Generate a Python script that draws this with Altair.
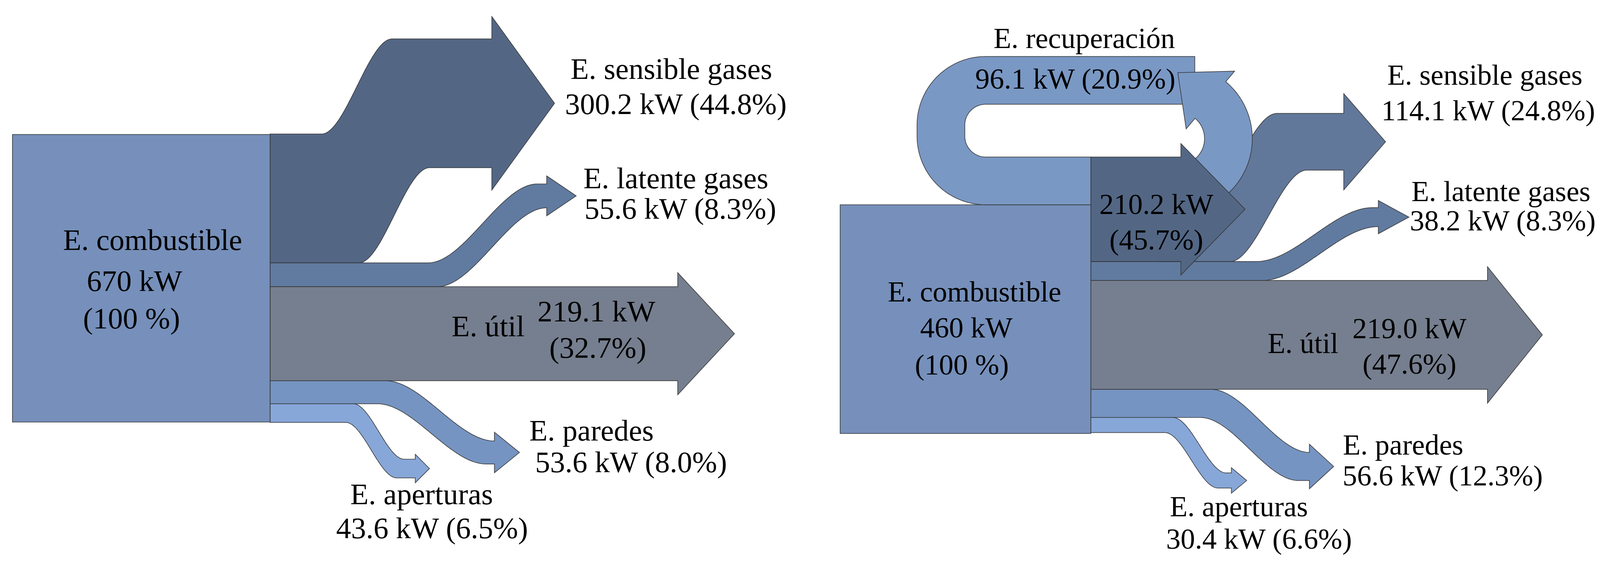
import altair as alt
import numpy as np
import pandas as pd

# ---------------- data ----------------
left_total = 670
left_names = ["E. sensible gases", "E. latente gases", "E. útil", "E. paredes", "E. aperturas"]
left_values = [300.2, 55.6, 219.1, 53.6, 43.6]
left_pct = ["44.8%", "8.3%", "32.7%", "8.0%", "6.5%"]

right_total = 460
right_names = ["E. sensible gases", "E. latente gases", "E. útil", "E. paredes", "E. aperturas"]
right_values = [114.1, 38.2, 219.0, 56.6, 30.4]
right_pct = ["24.8%", "8.3%", "47.6%", "12.3%", "6.6%"]

recovery_name = "E. recuperación"
recovery_value = 96.1
recovery_pct = "20.9%"
gases_value = 210.2
gases_pct = "45.7%"

source_name = "E. combustible"

# ---------------- styles / layout ----------------
FONT = "Liberation Serif"
FS_L = 80
FS_R = 77.5
C_BOX = "#7690BB"
C_DARK = "#536785"
C_LAT = "#617BA0"
C_UTIL = "#767F8F"
C_PAR = "#7594C1"
C_APE = "#87A7D8"
C_SENS_R = "#62789A"
C_LOOP = "#7A98C4"

L_BOX = (33.0, 723.3, 359.0, 1129.3)     # x0, x1, y0, y1
R_BOX = (2250.0, 2921.7, 547.4, 1160.0)

# per flow: target centre y (None = straight), curve start/end x, skew, notch x, head extra, head length, colour
left_layout = [
    dict(ty=275.5, xa=861, xb=1050, skew=100, notch=1317, extra=60, hl=168, color=C_DARK),
    dict(ty=523.5, xa=1146, xb=1439, skew=25, notch=1464, extra=21.5, hl=79, color=C_LAT),
    dict(ty=None, xa=0, xb=0, skew=0, notch=1815, extra=37.5, hl=152, color=C_UTIL),
    dict(ty=1211, xa=1010, xb=1302, skew=22, notch=1324, extra=23.5, hl=67, color=C_PAR),
    dict(ty=1254, xa=926, xb=1062, skew=20, notch=1112, extra=13, hl=38, color=C_APE),
]
right_layout = [
    dict(ty=378.5, xa=3215, xb=3420, skew=80, notch=3599, extra=53, hl=112, color=C_SENS_R),
    dict(ty=580.5, xa=3365, xb=3676, skew=15, notch=3691.6, extra=19, hl=82, color=C_LAT),
    dict(ty=None, xa=0, xb=0, skew=0, notch=3984, extra=37, hl=147, color=C_UTIL),
    dict(ty=1248.5, xa=3215, xb=3478, skew=29, notch=3507, extra=22, hl=65, color=C_PAR),
    dict(ty=1286, xa=3120, xb=3262, skew=22, notch=3298, extra=14, hl=41, color=C_APE),
]


def rnd(pts):
    return [[round(float(x), 2), round(float(y), 2)] for x, y in pts]


def feature(ring, color, name):
    ring = list(ring)
    if ring[0] != ring[-1]:
        ring.append(ring[0])
    return {"type": "Feature", "properties": {"fill": color, "name": name},
            "geometry": {"type": "Polygon", "coordinates": [rnd(ring)]}}


def rect(x0, x1, y0, y1):
    return [(x0, y0), (x1, y0), (x1, y1), (x0, y1)]


def arrow_ribbon(x0, ytop, w, lay):
    yc = ytop + w / 2
    ty = yc if lay["ty"] is None else lay["ty"]
    dy = ty - yc
    xa, xb, sk, notch = lay["xa"], lay["xb"], lay["skew"], lay["notch"]
    if dy < 0:
        ta, tb, ba, bb = xa, xb, xa + sk, xb + sk
    else:
        ta, tb, ba, bb = xa + sk, xb + sk, xa, xb
    if abs(dy) < 1e-9:
        xs = [x0, notch]
    else:
        xs = [x0] + list(np.linspace(min(ta, ba), max(tb, bb), 120)) + [notch]

    def edge(x, a, b, y0):
        if abs(dy) < 1e-9:
            return y0
        t = min(max((x - a) / (b - a), 0.0), 1.0)
        return y0 + dy * t * t * (3 - 2 * t)

    top = [(x, edge(x, ta, tb, ytop)) for x in xs]
    bot = [(x, edge(x, ba, bb, ytop + w)) for x in xs]
    e = lay["extra"]
    head = [(notch, ty - w / 2 - e), (notch + lay["hl"], ty), (notch, ty + w / 2 + e)]
    return top + head + bot[::-1]


def loop_band(x_start, y_t, x_l, y_b, x_end, R, w):
    h = w / 2
    c1 = (x_l + R, y_t + R)
    c2 = (x_l + R, y_b - R)

    def arc(c, r, a0, a1, n=40):
        return [(c[0] + r * np.cos(a), c[1] + r * np.sin(a)) for a in np.linspace(a0, a1, n)]

    outer = [(x_start, y_t - h)] + arc(c1, R + h, -np.pi / 2, -np.pi) + \
        arc(c2, R + h, np.pi, np.pi / 2) + [(x_end, y_b + h)]
    inner = [(x_end, y_b - h)] + arc(c2, R - h, np.pi / 2, np.pi) + \
        arc(c1, R - h, -np.pi, -np.pi / 2) + [(x_start, y_t + h)]
    return outer + inner


def arc_arrow(c, r, a0, a1, w, extra, hl, n=60):
    h = w / 2
    angs = np.linspace(a0, a1, n)
    outer = [(c[0] + (r + h) * np.cos(a), c[1] + (r + h) * np.sin(a)) for a in angs]
    inner = [(c[0] + (r - h) * np.cos(a), c[1] + (r - h) * np.sin(a)) for a in angs]
    a = a1
    p = np.array([c[0] + r * np.cos(a), c[1] + r * np.sin(a)])
    nrm = np.array([np.cos(a), np.sin(a)])
    d = np.array([np.sin(a), -np.cos(a)])
    head = [tuple(p + nrm * (h + extra)), tuple(p + d * hl), tuple(p - nrm * (h + extra))]
    return outer + head + inner[::-1]


features = []

# ---------------- left panel ----------------
lx0, lx1, ly0, ly1 = L_BOX
kL = (ly1 - ly0) / left_total
features.append(feature(rect(lx0, lx1, ly0, ly1), C_BOX, "box_left"))
y = ly0 + (left_total - sum(left_values)) * kL / 2
for name, v, lay in zip(left_names, left_values, left_layout):
    w = v * kL
    features.append(feature(arrow_ribbon(lx1, y, w, lay), lay["color"], "L " + name))
    y += w

# ---------------- right panel ----------------
rx0, rx1, ry0, ry1 = R_BOX
kR = (ry1 - ry0) / right_total
w_rec = recovery_value * kR
w_gas = gases_value * kR
features.append(feature(rect(rx0, rx1, ry0, ry1), C_BOX, "box_right"))
features.append(feature(loop_band(3200, 214, 2520, ry0 - w_rec / 2, rx1, 120, w_rec), C_LOOP, "loop"))

gas_top = ry0 - w_rec
y = gas_top + w_gas
right_polys = {}
for name, v, lay in zip(right_names[1:], right_values[1:], right_layout[1:]):
    w = v * kR
    right_polys[name] = feature(arrow_ribbon(rx1, y, w, lay), lay["color"], "R " + name)
    y += w
for name in right_names[2:]:
    features.append(right_polys[name])
features.append(right_polys[right_names[1]])
# sensible gases leave the lower part of the gases arrow
features.append(feature(arrow_ribbon(3100, gas_top + w_rec, right_values[0] * kR, right_layout[0]),
                        C_SENS_R, "R sensible"))
# recovery rising branch with its head
features.append(feature(arc_arrow((3155, 370), 135, np.radians(60), np.radians(-50), w_rec, 37, 114),
                        C_LOOP, "recovery head"))
# total gases arrow
features.append(feature(arrow_ribbon(rx1, gas_top, w_gas,
                                     dict(ty=None, xa=0, xb=0, skew=0, notch=3162.7, extra=36, hl=172)),
                        C_DARK, "gases"))

# ---------------- labels ----------------
def kw(v):
    return f"{v:.1f} kW"


labels = [
    (source_name, 408.5, 668, FS_L), (f"{left_total} kW", 360, 778, FS_L), ("(100 %)", 352, 879, FS_L),
    (left_names[0], 1798, 210, FS_L), (f"{kw(left_values[0])} ({left_pct[0]})", 1810, 304, FS_L),
    (left_names[1], 1810, 503, FS_L), (f"{kw(left_values[1])} ({left_pct[1]})", 1822, 585, FS_L),
    (left_names[2], 1307, 900, FS_L), (kw(left_values[2]), 1597, 860, FS_L), (f"({left_pct[2]})", 1601, 957, FS_L),
    (left_names[3], 1584, 1179, FS_L), (f"{kw(left_values[3])} ({left_pct[3]})", 1690, 1264, FS_L),
    (left_names[4], 1129, 1350, FS_L), (f"{kw(left_values[4])} ({left_pct[4]})", 1157, 1441, FS_L),

    (source_name, 2610, 806, FS_R), (f"{right_total} kW", 2588, 903, FS_R), ("(100 %)", 2576, 1002, FS_R),
    (recovery_name, 2904, 127, FS_R), (f"{kw(recovery_value)} ({recovery_pct})", 2880, 236, FS_R),
    (kw(gases_value), 3097, 572, FS_R), (f"({gases_pct})", 3097, 667, FS_R),
    (right_names[0], 3977, 226, FS_R), (f"{kw(right_values[0])} ({right_pct[0]})", 3986, 321, FS_R),
    (right_names[1], 4020, 538, FS_R), (f"{kw(right_values[1])} ({right_pct[1]})", 4025, 616, FS_R),
    (right_names[2], 3490, 945, FS_R), (kw(right_values[2]), 3775, 905, FS_R), (f"({right_pct[2]})", 3775, 1000, FS_R),
    (right_names[3], 3758, 1217, FS_R), (f"{kw(right_values[3])} ({right_pct[3]})", 3864, 1299, FS_R),
    (right_names[4], 3318, 1382, FS_R), (f"{kw(right_values[4])} ({right_pct[4]})", 3372, 1469, FS_R),
]
label_df = pd.DataFrame(labels, columns=["t", "x", "y", "fs"])

# page offset: 8 px body margin, plus a measured vertical correction
proj = dict(type="identity", scale=1, translate=[-8, -41])

shapes = alt.Chart(alt.Data(values=features)).mark_geoshape(
    stroke="#333333", strokeWidth=1.8, strokeOpacity=0.9, fillOpacity=1
).encode(
    fill=alt.Fill("properties.fill:N", scale=None)
).project(**proj)

texts = alt.Chart(label_df).mark_text(
    font=FONT, align="center", baseline="alphabetic", color="black"
).encode(
    longitude="x:Q", latitude="y:Q", text="t:N",
    size=alt.Size("fs:Q", scale=None, legend=None)
).project(**proj)

chart = alt.layer(shapes, texts).properties(
    width=4269, height=1464, padding=0, background="white",
    autosize=alt.AutoSizeParams(type="none")
).configure_view(stroke=None)

chart.save("out.html", embed_options={"renderer": "svg", "actions": False})
